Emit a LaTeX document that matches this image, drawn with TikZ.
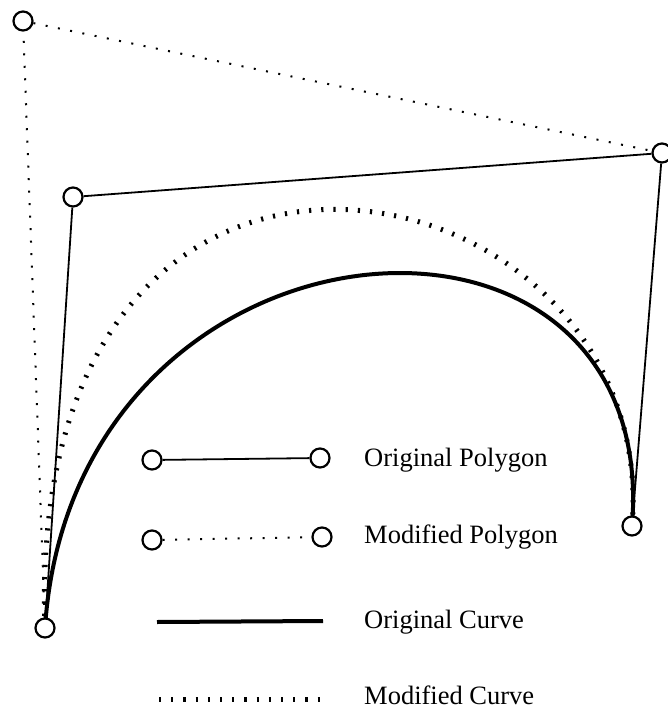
\documentclass[tikz,border=0pt]{standalone}
\usepackage{fontspec}
\setmainfont{Liberation Serif}
\begin{document}
\begin{tikzpicture}[x=1pt,y=-1pt,
  pt/.style={circle,draw,fill=white,line width=2.2pt,minimum size=19pt,inner sep=0pt},
  polyline/.style={line width=1.8pt},
  polydots/.style={line width=2pt,dash pattern=on 2pt off 10.5pt},
  origcurve/.style={line width=4pt},
  modcurve/.style={line width=5pt,dash pattern=on 2.2pt off 10pt},
  lab/.style={anchor=base west,inner sep=0pt,font=\fontsize{26.5}{30}\selectfont}]
\useasboundingbox (0,0) rectangle (667,711);
% control points
\coordinate (c0) at (45,628);
\coordinate (c1) at (73,197);
\coordinate (m1) at (23,21);
\coordinate (c2) at (662,153);
\coordinate (c3) at (632,526);
% curves
\draw[modcurve] (c0) .. controls (m1) and (c2) .. (c3);
\draw[origcurve] (c0) .. controls (c1) and (c2) .. (c3);
% points
\node[pt] (n0) at (c0) {};
\node[pt] (n1) at (c1) {};
\node[pt] (nm) at (m1) {};
\node[pt] (n2) at (c2) {};
\node[pt] (n3) at (c3) {};
% polygons
\draw[polyline] (n0) -- (n1) -- (n2) -- (n3);
\draw[polydots] (n0) -- (nm) -- (n2);
% legend
\node[pt] (la) at (152,460) {};
\node[pt] (lb) at (320,458) {};
\draw[polyline] (la) -- (lb);
\node[lab] (ta) at (364,466) {Original Polygon};
\node[pt] (lc) at (152,540) {};
\node[pt] (ld) at (322,537) {};
\draw[polydots] (lc) -- (ld);
\node[lab] (tb) at (364,543) {Modified Polygon};
\coordinate (le) at (157,622);
\coordinate (lf) at (323,621);
\draw[origcurve] (le) -- (lf);
\node[lab] (tc) at (364,628) {Original Curve};
\coordinate (lg) at (159,699);
\coordinate (lh) at (327,699);
\draw[modcurve] (lg) -- (lh);
\node[lab] (td) at (364,704) {Modified Curve};
\end{tikzpicture}
\end{document}
